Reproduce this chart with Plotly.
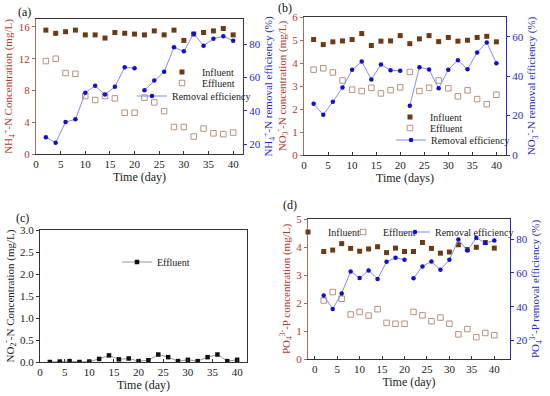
import plotly.graph_objects as go

W, H = 550, 396

days = [2, 4, 6, 8, 10, 12, 14, 16, 18, 20, 22, 24, 26, 28, 30, 32, 34, 36, 38, 40]

# (a) NH4+-N
a_inf = [15.6, 15.2, 15.4, 15.6, 15.0, 15.0, 14.6, 15.3, 15.2, 15.1, 15.0, 15.5, 15.0, 15.6, 14.3, 15.1, 15.3, 15.5, 15.8, 15.0]
a_eff = [11.7, 12.0, 10.2, 10.1, 7.3, 6.8, 7.3, 7.0, 5.2, 5.2, 7.1, 6.5, 5.4, 3.4, 3.4, 2.2, 3.2, 2.6, 2.5, 2.7]
a_rem = [24.0, 20.8, 33.2, 34.8, 50.7, 54.9, 49.7, 54.3, 66.0, 65.5, 52.3, 58.1, 63.3, 78.0, 75.6, 86.2, 79.0, 83.2, 84.6, 82.0]

# (b) NO3--N
b_inf = [5.02, 4.80, 4.92, 4.96, 5.02, 5.28, 4.76, 4.95, 4.96, 5.19, 4.84, 5.05, 5.19, 4.93, 5.11, 4.95, 4.99, 5.11, 5.16, 4.92]
b_eff = [3.71, 3.77, 3.59, 3.24, 2.84, 2.78, 2.92, 2.68, 2.82, 2.94, 3.61, 2.78, 2.92, 3.24, 2.90, 2.55, 2.81, 2.43, 2.21, 2.62]
b_rem = [26.0, 20.4, 27.0, 34.2, 43.2, 47.4, 38.3, 45.9, 43.0, 42.7, 25.0, 44.5, 43.4, 33.8, 43.2, 48.1, 43.5, 52.0, 57.1, 46.6]

# (c) NO2--N
c_eff = [0.00, 0.01, 0.02, 0.00, 0.01, 0.07, 0.15, 0.06, 0.08, 0.02, 0.04, 0.17, 0.11, 0.02, 0.05, 0.02, 0.11, 0.17, 0.02, 0.05]

# (d) PO4 3--P
d_inf = [3.84, 3.89, 4.12, 3.95, 3.85, 3.93, 4.01, 3.80, 3.96, 3.84, 3.84, 4.16, 3.95, 3.78, 3.82, 4.08, 3.91, 3.99, 4.16, 3.96]
d_eff = [2.09, 2.39, 2.15, 1.59, 1.68, 1.55, 1.78, 1.29, 1.26, 1.26, 1.68, 1.56, 1.35, 1.48, 1.26, 0.88, 1.07, 0.78, 0.93, 0.85]
d_rem = [46.6, 38.7, 47.9, 60.9, 57.0, 61.5, 56.4, 66.6, 69.0, 67.8, 56.8, 63.9, 66.8, 61.9, 67.8, 79.8, 73.3, 80.8, 77.8, 79.2]

FONT = "Liberation Serif, Times New Roman, serif"
C_INF = "#6B3A17"
C_EFF = "#B8937E"
C_REM = "#1010D0"
C_REML = "#8A8AF0"
C_LEFT = "#B03A2E"
C_LEFTLINE = "#A0705A"
C_RIGHT = "#2A2AC8"


def gap(x, y):
    # break line between day 20 and 22
    xs, ys = [], []
    for xi, yi in zip(x, y):
        if xi == 22:
            xs.append(21)
            ys.append(None)
        xs.append(xi)
        ys.append(yi)
    return xs, ys


def px_x(p):
    return p / W


def px_y(p):
    return 1 - p / H


fig = go.Figure()

def add_inf(x, y, xa, ya, leg):
    fig.add_trace(go.Scatter(x=x, y=y, mode="markers", name="Influent",
                             marker=dict(symbol="square", size=5, color=C_INF),
                             xaxis=xa, yaxis=ya, legend=leg))

def add_eff(x, y, xa, ya, leg):
    fig.add_trace(go.Scatter(x=x, y=y, mode="markers", name="Effluent",
                             marker=dict(symbol="square-open", size=5.5, color=C_EFF, line=dict(width=1)),
                             xaxis=xa, yaxis=ya, legend=leg))

def add_rem(x, y, xa, ya, leg):
    xs, ys = gap(x, y)
    fig.add_trace(go.Scatter(x=xs, y=ys, mode="lines+markers", name="Removal efficiency",
                             line=dict(color=C_REML, width=1),
                             marker=dict(symbol="circle", size=4.5, color=C_REM),
                             connectgaps=False,
                             xaxis=xa, yaxis=ya, legend=leg))

# (a)
add_inf(days, a_inf, "x", "y", "legend")
add_eff(days, a_eff, "x", "y", "legend2")
add_rem(days, a_rem, "x", "y2", "legend3")
# (b)
add_inf(days, b_inf, "x2", "y3", "legend4")
add_eff(days, b_eff, "x2", "y3", "legend5")
add_rem(days, b_rem, "x2", "y4", "legend6")
# (c)
fig.add_trace(go.Scatter(x=days, y=c_eff, mode="lines+markers", name="Effluent",
                         line=dict(color="#999999", width=1),
                         marker=dict(symbol="square", size=4.5, color="#111111"),
                         xaxis="x3", yaxis="y5", legend="legend7"))
# (d)
add_inf(days, d_inf, "x4", "y6", "legend8")
add_eff(days, d_eff, "x4", "y6", "legend9")
add_rem(days, d_rem, "x4", "y7", "legend10")

TICK = 11
tickf = dict(family=FONT, size=TICK, color="#222222")
titlef = dict(family=FONT, size=12, color="#222222")
YT = 11


def xaxis(dom, rng, title, anchor):
    return dict(domain=dom, range=rng, anchor=anchor, showline=True, linecolor="#333333",
                linewidth=1, mirror=True, ticks="inside", ticklen=3, tickcolor="#333333",
                tickvals=[0, 5, 10, 15, 20, 25, 30, 35, 40], showgrid=False, zeroline=False,
                automargin=False,
                tickfont=tickf, title=dict(text=title, font=titlef, standoff=2))


def yleft(dom, rng, tv, title, anchor, color, linecolor, fmt=None):
    d = dict(domain=dom, range=rng, anchor=anchor, showline=True, linecolor=linecolor,
             linewidth=1, ticks="outside", ticklen=3, tickcolor=linecolor, tickvals=tv,
             showgrid=False, zeroline=False, automargin=False,
             tickfont=dict(family=FONT, size=TICK, color=color),
             title=dict(text=title, font=dict(family=FONT, size=YT, color=color), standoff=3))
    if fmt:
        d["tickformat"] = fmt
    return d


def yright(over, rng, tv, title, anchor):
    return dict(overlaying=over, side="right", range=rng, anchor=anchor, showline=True,
                linecolor=C_RIGHT, linewidth=1, ticks="outside", ticklen=3, tickcolor=C_RIGHT,
                tickvals=tv, showgrid=False, zeroline=False, automargin=False,
                tickfont=dict(family=FONT, size=TICK, color=C_RIGHT),
                title=dict(text=title, font=dict(family=FONT, size=YT, color=C_RIGHT), standoff=3))


xa_dom = [px_x(36), px_x(243)]
ya_dom = [px_y(154), px_y(19)]
xb_dom = [px_x(304), px_x(506)]
yb_dom = [px_y(155), px_y(17)]
xc_dom = [px_x(40), px_x(247)]
yc_dom = [px_y(362), px_y(230)]
xd_dom = [px_x(308), px_x(510)]
yd_dom = [px_y(359), px_y(219)]


def leg(xp, yp):
    return dict(x=px_x(xp), y=px_y(yp), xanchor="left", yanchor="middle",
                bgcolor="rgba(0,0,0,0)", borderwidth=0,
                font=dict(family=FONT, size=10, color="#222222"),
                itemwidth=30, tracegroupgap=0)


fig.update_layout(
    width=W, height=H, margin=dict(l=0, r=0, t=0, b=0, autoexpand=False),
    paper_bgcolor="white", plot_bgcolor="white", showlegend=True,
    xaxis=xaxis(xa_dom, [0, 42], "Time (day)", "y"),
    yaxis=yleft(ya_dom, [0, 17], [0, 4, 8, 12, 16],
                "NH<sub>4</sub><sup>+</sup>-N Concentration (mg/L)", "x", C_LEFT, C_LEFTLINE),
    yaxis2=yright("y", [14, 95], [20, 40, 60, 80],
                  "NH<sub>4</sub><sup>+</sup>-N removal efficiency (%)", "x"),
    xaxis2=xaxis(xb_dom, [0, 42], "Time (days)", "y3"),
    yaxis3=yleft(yb_dom, [0, 6], [0, 1, 2, 3, 4, 5, 6],
                 "NO<sub>3</sub><sup>-</sup>-N concentration (mg/L)", "x2", C_LEFT, C_LEFTLINE),
    yaxis4=yright("y3", [0, 70], [0, 20, 40, 60],
                  "NO<sub>3</sub><sup>-</sup>-N removal efficiency (%)", "x2"),
    xaxis3=xaxis(xc_dom, [0, 42], "Time (day)", "y5"),
    yaxis5=dict(yleft(yc_dom, [0, 3], [0, 0.5, 1, 1.5, 2, 2.5, 3],
                      "NO<sub>2</sub><sup>-</sup>-N Concentration (mg/L)", "x3", "#222222", "#333333", ".1f"),
                mirror=True),
    xaxis4=xaxis(xd_dom, [-1.5, 43.5], "Time (day)", "y6"),
    yaxis6=yleft(yd_dom, [0, 5], [0, 1, 2, 3, 4, 5],
                 "PO<sub>4</sub><sup>3-</sup>-P concentration (mg/L)", "x4", C_LEFT, C_LEFTLINE),
    yaxis7=yright("y6", [9, 92], [20, 40, 60, 80],
                  "PO<sub>4</sub><sup>3-</sup>-P removal efficiency (%)", "x4"),
    legend=leg(162, 72),
    legend2=leg(162, 83),
    legend3=leg(132, 96),
    legend4=leg(390, 117),
    legend5=leg(390, 128),
    legend6=leg(391, 140),
    legend7=leg(117, 262),
    legend8=leg(288, 232),
    legend9=leg(343, 232),
    legend10=leg(395, 232),
)

for txt, xp, yp in [("(a)", 24, 12), ("(b)", 285, 8), ("(c)", 22, 218), ("(d)", 290, 205)]:
    fig.add_annotation(text=txt, x=px_x(xp), y=px_y(yp), xref="paper", yref="paper",
                       showarrow=False, xanchor="center", yanchor="middle",
                       font=dict(family=FONT, size=12, color="#111111"))

fig.write_html("out.html", config={"displayModeBar": False},
               post_script="document.body.style.margin='0';document.body.style.overflow='hidden';")
